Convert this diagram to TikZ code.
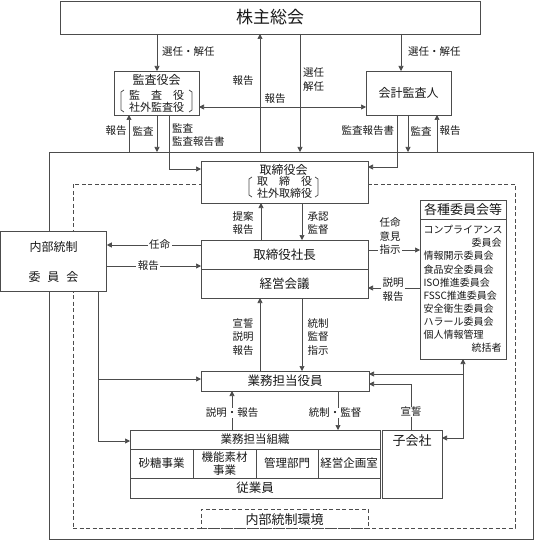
\documentclass[tikz,border=0pt]{standalone}
\usepackage{fontspec}
\setmainfont{Noto Sans CJK JP}
\usetikzlibrary{arrows.meta}
\begin{document}
\begin{tikzpicture}[x=1pt,y=-1pt,
  every node/.style={inner sep=0pt, outer sep=0pt, text=black!90},
  box/.style={draw=black!70, fill=white, line width=0.7pt},
  lbl/.style={font=\fontsize{10.5}{13.6}\selectfont, align=center},
  wlbl/.style={lbl, fill=white, inner xsep=1.5pt, inner ysep=0.5pt},
  ln/.style={draw=black!70, line width=0.7pt},
  arr/.style={ln, -{Triangle[length=5pt,width=5pt]}},
  dbl/.style={ln, {Triangle[length=5pt,width=5pt]}-{Triangle[length=5pt,width=5pt]}},
  big/.style={font=\fontsize{12.5}{12.5}\selectfont},
  mid/.style={font=\fontsize{12}{12}\selectfont},
  sml/.style={font=\fontsize{11}{12}\selectfont, align=center},
  lst/.style={font=\fontsize{10}{10}\selectfont},
]
\useasboundingbox (0,0) rectangle (536,540);

% environment frames
\node[ln, minimum width=484pt, minimum height=387pt] (outer) at (291,345.5) {};
\node[ln, dash pattern=on 4pt off 2.5pt, minimum width=442pt, minimum height=344pt] (envd) at (294,356) {};

% boxes
\node[box, minimum width=420pt, minimum height=33pt, font=\fontsize{17}{17}\selectfont] (kabu) at (270,17.5) {株主総会};

\node[box, minimum width=85pt, minimum height=44pt] (kansa) at (156.5,93) {};
\node[mid] (kansaT) at (156.5,80) {監査役会};
\node[sml, font=\fontsize{11}{12}\selectfont] (kansaM) at (156.5,101) {\hbox to 55pt{監\hfil 査\hfil 役}\\社外監査役};
\draw[ln] (124,90) -- (121,92) -- (121,110) -- (124,112);
\draw[ln] (189,90) -- (192,92) -- (192,110) -- (189,112);

\node[box, minimum width=85pt, minimum height=44pt, mid] (kaikei) at (408.5,93) {会計監査人};

\node[box, minimum width=167pt, minimum height=42pt] (tbk) at (284.5,182) {};
\node[mid] (tbkT) at (283.5,169.5) {取締役会};
\node[sml] (tbkM) at (284.5,187) {\hbox to 55pt{取\hfil 締\hfil 役}\\社外取締役};
\draw[ln] (252,177) -- (249,179) -- (249,195) -- (252,197);
\draw[ln] (315,177) -- (318,179) -- (318,195) -- (315,197);

\node[box, minimum width=167pt, minimum height=29pt, big] (shacho) at (284.5,254.5) {取締役社長};
\node[box, minimum width=167pt, minimum height=29pt, big] (keiei) at (284.5,283.5) {経営会議};

\node[box, minimum width=106pt, minimum height=60pt] (naibu) at (53.8,261) {};
\node[mid] (naibuA) at (53.5,247) {内部統制};
\node[mid] (naibuB) at (53.5,277) {\hbox to 50pt{委\hfil 員\hfil 会}};

\node[box, minimum width=86pt, minimum height=159pt] (kaku) at (463,279.5) {};
\draw[ln] (kaku.west |- 0,219) -- (kaku.east |- 0,219);
\node[font=\fontsize{13}{13}\selectfont] (kakuH) at (463,209.5) {各種委員会等};
\foreach \t/\y [count=\i] in {コンプライアンス/230, 情報開示委員会/256.2, 食品安全委員会/269.3, ISO推進委員会/282.4, FSSC推進委員会/295.5, 安全衛生委員会/308.6, ハラール委員会/321.7, 個人情報管理/334.8}
  \node[lst, anchor=west] (kl\i) at (423.5,\y) {\t};
\foreach \t/\y [count=\i] in {委員会/243.1, 統括者/347.9}
  \node[lst, anchor=east] (kr\i) at (501.5,\y) {\t};

\node[box, minimum width=168pt, minimum height=20pt, big] (gyomu) at (285,381) {業務担当役員};

\node[box, minimum width=250pt, minimum height=68pt] (soshiki) at (255,464) {};
\draw[ln] (soshiki.west |- 0,449) -- (soshiki.east |- 0,449);
\draw[ln] (soshiki.west |- 0,478) -- (soshiki.east |- 0,478);
\foreach \x in {193,256,318} \draw[ln] (\x,449) -- (\x,478);
\node[font=\fontsize{11.5}{11.5}\selectfont] (soshikiT) at (255,439.5) {業務担当組織};
\node[font=\fontsize{11.5}{13}\selectfont] (c1) at (161.5,463.5) {砂糖事業};
\node[font=\fontsize{11.5}{13}\selectfont, align=center] (c2) at (224.5,463.5) {機能素材\\事業};
\node[font=\fontsize{11.5}{13}\selectfont] (c3) at (287,463.5) {管理部門};
\node[font=\fontsize{11.5}{13}\selectfont] (c4) at (349,463.5) {経営企画室};
\node[big] (jugyo) at (255,488) {従業員};

\node[box, minimum width=60pt, minimum height=68pt] (ko) at (412,464) {};
\node[font=\fontsize{13}{13}\selectfont] (koT) at (412,441) {子会社};

\node[ln, dash pattern=on 4pt off 2.5pt, fill=white, minimum width=167pt, minimum height=19pt] (kankyo) at (284.5,518.5) {};
\node[font=\fontsize{13}{13}\selectfont] (kankyoT) at (284.5,519.5) {内部統制環境};

% connectors top
\draw[arr] (kabu.south -| 157,0) -- (kansa.north -| 157,0);
\node[lbl, anchor=west] (l1) at (162,52) {選任・解任};
\draw[arr] (outer.north -| 260,0) -- (kabu.south -| 260,0);
\node[lbl] (l2) at (243,81) {報告};
\draw[arr] (kabu.south -| 300,0) -- (outer.north -| 300,0);
\node[lbl, anchor=west] (l3) at (303,79.5) {選任\\解任};
\draw[arr] (kabu.south -| 401,0) -- (kaikei.north -| 401,0);
\node[lbl, anchor=west] (l4) at (408,52) {選任・解任};
\draw[dbl] (kansa.east |- 0,107) -- (kaikei.west |- 0,107);
\node[lbl] (l5) at (275,99) {報告};

\draw[arr] (outer.north -| 129,0) -- (kansa.south -| 129,0);
\node[lbl] (l6) at (116,131) {報告};
\draw[arr] (kansa.south -| 157,0) -- (outer.north -| 157,0);
\node[lbl] (l7) at (143,131) {監査};
\draw[arr] (kansa.south -| 169,0) |- (tbk.west |- 0,169);
\node[lbl, anchor=west, align=left] (l8) at (172,135) {監査\\監査報告書};

\draw[arr] (kaikei.south -| 397,0) |- (tbk.east |- 0,167);
\node[lbl, anchor=east] (l9) at (394,131) {監査報告書};
\draw[arr] (kaikei.south -| 408,0) -- (outer.north -| 408,0);
\node[lbl, anchor=west] (l10) at (410.5,131) {監査};
\draw[arr] (outer.north -| 437,0) -- (kaikei.south -| 437,0);
\node[lbl, anchor=west] (l11) at (439.5,131) {報告};

% board / president
\draw[arr] (shacho.north -| 261,0) -- (tbk.south -| 261,0);
\node[lbl] (l12) at (243,223) {提案\\報告};
\draw[arr] (tbk.south -| 302,0) -- (shacho.north -| 302,0);
\node[lbl] (l13) at (318,223) {承認\\監督};

\draw[arr] (shacho.west |- 0,245) -- (naibu.east |- 0,245) node[wlbl, pos=0.44] (l14) {任命};
\draw[arr] (naibu.east |- 0,266) -- (shacho.west |- 0,266) node[wlbl, pos=0.44] (l15) {報告};

\draw[arr] (shacho.east |- 0,250) -- (kaku.west |- 0,250);
\node[wlbl] (l16) at (390,236) {任命\\意見\\指示};
\draw[arr] (kaku.west |- 0,288) -- (keiei.east |- 0,288);
\node[wlbl] (l17) at (393,289.5) {説明\\報告};

\draw[arr] (gyomu.north -| 260,0) -- (keiei.south -| 260,0);
\node[lbl] (l18) at (243,337) {宣誓\\説明\\報告};
\draw[arr] (keiei.south -| 302,0) -- (gyomu.north -| 302,0);
\node[lbl] (l19) at (318,337) {統制\\監督\\指示};

% internal control committee to operations
\draw[arr] (naibu.south -| 98,0) |- (gyomu.west |- 0,379);
\draw[arr] (naibu.south -| 98,0) |- (soshiki.west |- 0,441);

% operations
\draw[arr] (soshiki.north -| 232,0) -- (gyomu.south -| 232,0);
\node[wlbl] (l20) at (232,413) {説明・報告};
\draw[arr] (gyomu.south -| 338,0) -- (soshiki.north -| 338,0);
\node[wlbl] (l21) at (335,413) {統制・監督};
\draw[arr] (ko.north -| 411,0) |- (gyomu.east |- 0,384);
\node[wlbl] (l22) at (411,412) {宣誓};
\draw[dbl] (kaku.south) -- (kaku.south |- 0,438) -- (ko.east |- 0,438);
\draw[arr] (kaku.south |- 0,374) -- (gyomu.east |- 0,374);
\end{tikzpicture}
\end{document}
